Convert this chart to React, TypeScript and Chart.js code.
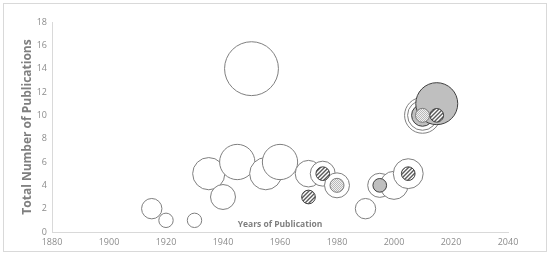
import React, { useEffect, useRef } from "react";
import { Chart, registerables } from "chart.js";

Chart.register(...registerables);

// ---- data ----
const X_MIN = 1880;
const X_MAX = 2040;
const X_STEP = 20;
const Y_MIN = 0;
const Y_MAX = 18;
const Y_STEP = 2;

const X_TITLE = "Years of Publication";
const Y_TITLE = "Total Number of Publications";

// open (white) bubbles
const openYears = [1915, 1920, 1930, 1935, 1940, 1945, 1950, 1955, 1960, 1970, 1975, 1980, 1990, 1995, 2000, 2005, 2010, 2010];
const openCounts = [2, 1, 1, 5, 3, 6, 14, 5, 6, 5, 5, 4, 2, 4, 4, 5, 10, 10];
const openSizes = [2, 1, 1, 5, 3, 6, 14, 5, 6, 3.4, 3, 3, 2, 2.8, 3.8, 4.3, 6.2, 4.3];

// solid grey bubbles
const grayYears = [1995, 2010, 2015];
const grayCounts = [4, 10, 11];
const graySizes = [0.9, 2.3, 8.5];

// dotted bubbles
const dotYears = [1980, 2010];
const dotCounts = [4, 10];
const dotSizes = [0.95, 0.95];

// hatched bubbles
const hatchYears = [1970, 1975, 2005, 2015];
const hatchCounts = [3, 5, 5, 10];
const hatchSizes = [0.9, 0.9, 0.9, 0.9];

const BUBBLE_SCALE = 7.2; // radius px per sqrt(size)

function toPoints(xs: number[], ys: number[], ss: number[]) {
  return xs.map((x, i) => ({ x, y: ys[i], r: BUBBLE_SCALE * Math.sqrt(ss[i]) }));
}

function makeHatch(): CanvasPattern | string {
  const c = document.createElement("canvas");
  const s = 4;
  c.width = s;
  c.height = s;
  const g = c.getContext("2d");
  if (!g) return "#888";
  g.fillStyle = "#ffffff";
  g.fillRect(0, 0, s, s);
  g.strokeStyle = "#5a5a5a";
  g.lineWidth = 1.4;
  g.beginPath();
  g.moveTo(-1, s + 1);
  g.lineTo(s + 1, -1);
  g.moveTo(-1, 1);
  g.lineTo(1, -1);
  g.moveTo(s - 1, s + 1);
  g.lineTo(s + 1, s - 1);
  g.stroke();
  const p = g.createPattern(c, "repeat");
  return p || "#888";
}

function makeDots(): CanvasPattern | string {
  const c = document.createElement("canvas");
  c.width = 2;
  c.height = 2;
  const g = c.getContext("2d");
  if (!g) return "#ddd";
  g.fillStyle = "#f0f0f0";
  g.fillRect(0, 0, 2, 2);
  g.fillStyle = "#b8b8b8";
  g.fillRect(0, 0, 1, 1);
  g.fillRect(1, 1, 1, 1);
  const p = g.createPattern(c, "repeat");
  return p || "#ddd";
}

const frameAndTitle = {
  id: "frameAndTitle",
  beforeDraw(chart: any) {
    const ctx = chart.ctx;
    ctx.save();
    ctx.fillStyle = "#ffffff";
    ctx.fillRect(0, 0, chart.width, chart.height);
    ctx.strokeStyle = "#d9d9d9";
    ctx.lineWidth = 1;
    ctx.strokeRect(3.5, 3.5, 543, 248);
    ctx.restore();
  },
  afterDraw(chart: any) {
    const { ctx, chartArea } = chart;
    ctx.save();
    ctx.font = "bold 8.5px 'Open Sans'";
    ctx.fillStyle = "#7f7f7f";
    ctx.textAlign = "center";
    ctx.textBaseline = "alphabetic";
    ctx.fillText(X_TITLE, (chartArea.left + chartArea.right) / 2, chartArea.bottom - 5);
    ctx.restore();
  },
};

export default function App() {
  const ref = useRef<HTMLCanvasElement | null>(null);

  useEffect(() => {
    if (!ref.current) return;
    const hatch = makeHatch();
    const dots = makeDots();
    const chart = new Chart(ref.current, {
      type: "bubble",
      data: {
        datasets: [
          {
            label: "hatched",
            data: toPoints(hatchYears, hatchCounts, hatchSizes),
            backgroundColor: hatch as any,
            borderColor: "#404040",
            borderWidth: 1,
            order: 1,
          },
          {
            label: "dotted",
            data: toPoints(dotYears, dotCounts, dotSizes),
            backgroundColor: dots as any,
            borderColor: "#7f7f7f",
            borderWidth: 1,
            order: 2,
          },
          {
            label: "grey",
            data: toPoints(grayYears, grayCounts, graySizes),
            backgroundColor: "#bfbfbf",
            borderColor: "#404040",
            borderWidth: 1,
            order: 3,
          },
          {
            label: "open",
            data: toPoints(openYears, openCounts, openSizes),
            backgroundColor: "#ffffff",
            borderColor: "#808080",
            borderWidth: 1,
            order: 4,
          },
        ],
      },
      options: {
        responsive: false,
        animation: false,
        events: [],
        layout: { autoPadding: false, padding: { top: 22, right: 42, left: 0, bottom: 0 } },
        plugins: {
          legend: { display: false },
          tooltip: { enabled: false },
        },
        scales: {
          x: {
            type: "linear",
            min: X_MIN,
            max: X_MAX,
            grid: { display: false, drawTicks: false },
            border: { display: true, color: "#d9d9d9", width: 1 },
            ticks: {
              stepSize: X_STEP,
              padding: 5,
              color: "#8c8c8c",
              font: { family: "'Open Sans'", size: 9 },
              callback: (v: any) => String(v),
            },
            afterFit: (s: any) => {
              s.height = 23;
            },
          },
          y: {
            type: "linear",
            min: Y_MIN,
            max: Y_MAX,
            grid: { display: false, drawTicks: false },
            border: { display: true, color: "#d9d9d9", width: 1 },
            ticks: {
              stepSize: Y_STEP,
              padding: 5,
              color: "#8c8c8c",
              font: { family: "'Open Sans'", size: 9 },
            },
            title: {
              display: true,
              text: Y_TITLE,
              color: "#7f7f7f",
              font: { family: "'Open Sans'", size: 12, weight: "bold" },
              padding: { top: 20, bottom: 0 },
            },
            afterFit: (s: any) => {
              s.width = 52;
            },
          },
        },
      },
      plugins: [frameAndTitle],
    });
    return () => chart.destroy();
  }, []);

  return (
    <div style={{ position: "absolute", left: 0, top: 0, width: 550, height: 255 }}>
      <canvas ref={ref} width={550} height={255} />
    </div>
  );
}
